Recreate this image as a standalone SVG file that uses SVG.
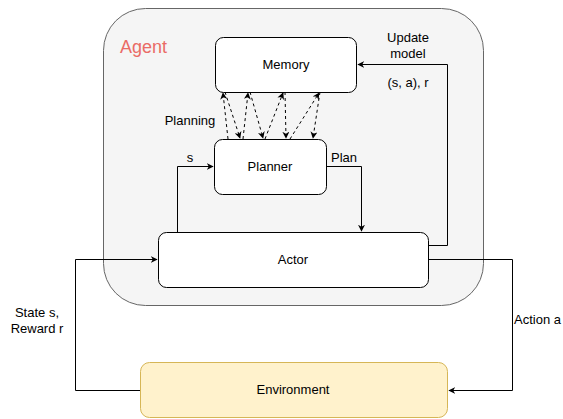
<svg xmlns="http://www.w3.org/2000/svg" width="563" height="419" viewBox="0 0 563 419">
<style>
text{font-family:"Liberation Sans",Arial,sans-serif;font-size:13px;fill:#000}
.node{fill:#fff;stroke:#000;stroke-width:1}
.c{fill:none;stroke:#000;stroke-width:1}
.d{fill:none;stroke:#000;stroke-width:1;stroke-dasharray:3,3}
</style>
<defs>
<marker id="a" viewBox="0 0 10 10" refX="9" refY="5" markerWidth="7" markerHeight="7" orient="auto" markerUnits="userSpaceOnUse"><path d="M0,0 L10,5 L0,10 L3,5 Z" fill="#000"/></marker>
</defs>
<g id="agent">
<rect x="103.5" y="8.5" width="380" height="297" rx="42" fill="#f5f5f5" stroke="#666"/>
<text x="120" y="53" style="font-size:18px;fill:#EA6B66">Agent</text>
</g>
<g id="memory">
<rect class="node" x="215.5" y="37.5" width="141" height="55" rx="8"/>
<text x="286" y="69" text-anchor="middle">Memory</text>
</g>
<g id="planner">
<rect class="node" x="214.5" y="139.5" width="112" height="55" rx="8"/>
<text x="270" y="171" text-anchor="middle">Planner</text>
</g>
<g id="actor">
<rect class="node" x="158.5" y="232.5" width="270" height="55" rx="8"/>
<text x="293" y="264" text-anchor="middle">Actor</text>
</g>
<g id="environment">
<rect x="140.5" y="362.5" width="307" height="55" rx="9" fill="#fff2cc" stroke="#d6b656"/>
<text x="293" y="394" text-anchor="middle">Environment</text>
</g>
<g id="connectors">
<path class="d" d="M228,139 L223,93" marker-end="url(#a)"/>
<path class="d" d="M225,92 L240,138" marker-end="url(#a)"/>
<path class="d" d="M243,139 L248,93" marker-end="url(#a)"/>
<path class="d" d="M250,92 L263,138" marker-end="url(#a)"/>
<path class="d" d="M265,139 L283,93" marker-end="url(#a)"/>
<path class="d" d="M285,92 L286,138" marker-end="url(#a)"/>
<path class="d" d="M290,139 L319,93" marker-end="url(#a)"/>
<path class="d" d="M320,92 L313,138" marker-end="url(#a)"/>
<path class="c" d="M177.5,232 L177.5,166.5 L213,166.5" marker-end="url(#a)"/>
<path class="c" d="M327,166.5 L361.5,166.5 L361.5,231" marker-end="url(#a)"/>
<path class="c" d="M429,245.5 L447.5,245.5 L447.5,64.5 L358,64.5" marker-end="url(#a)"/>
<path class="c" d="M429,259.5 L512.5,259.5 L512.5,390.5 L449,390.5" marker-end="url(#a)"/>
<path class="c" d="M140,390.5 L75.5,390.5 L75.5,259.5 L157,259.5" marker-end="url(#a)"/>
</g>
<g id="labels">
<text x="190" y="125" text-anchor="middle">Planning</text>
<text x="190" y="162" text-anchor="middle">s</text>
<text x="344" y="162" text-anchor="middle">Plan</text>
<text x="408" y="42" text-anchor="middle">Update</text>
<text x="408" y="58" text-anchor="middle">model</text>
<text x="408" y="87" text-anchor="middle">(s, a), r</text>
<text x="37" y="317" text-anchor="middle">State s,</text>
<text x="37" y="333" text-anchor="middle">Reward r</text>
<text x="514" y="324">Action a</text>
</g>
</svg>
